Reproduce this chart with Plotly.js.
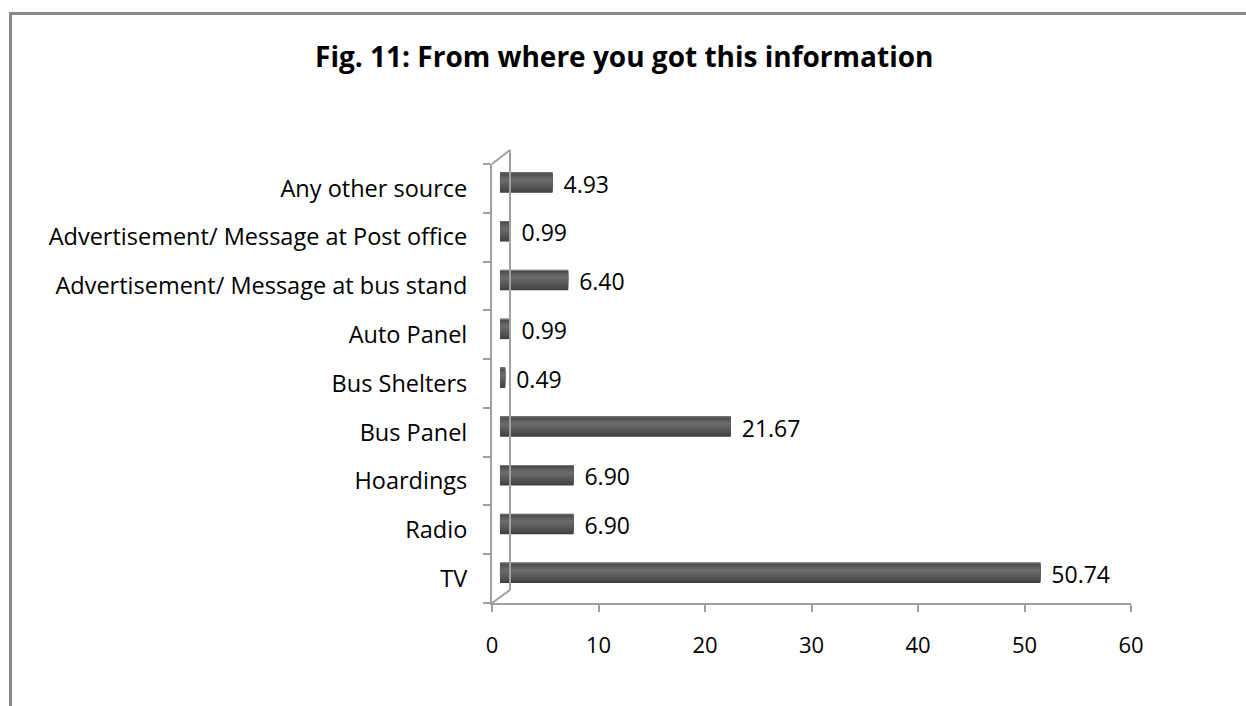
<!DOCTYPE html>
<html>
<head>
<meta charset="utf-8">
<script src="https://cdn.plot.ly/plotly-3.0.1.min.js"></script>
<style>
  html, body { margin: 0; padding: 0; background: #fff; }
  #wrap { position: relative; width: 1246px; height: 706px; overflow: hidden; }
  #chart { width: 1246px; height: 706px; }
  #frame { position: absolute; left: 9px; top: 12px; width: 1400px; height: 900px;
           border-top: 3px solid #878787; border-left: 3px solid #878787; pointer-events: none; box-sizing: border-box; }
</style>
</head>
<body>
<div id="wrap">
  <div id="chart"></div>
  <div id="frame"></div>
</div>
<script>
const titleText = "Fig. 11: From where you got this information";
const categories = [
  "TV",
  "Radio",
  "Hoardings",
  "Bus Panel",
  "Bus Shelters",
  "Auto Panel",
  "Advertisement/ Message at bus stand",
  "Advertisement/ Message at Post office",
  "Any other source"
];
const values = [50.74, 6.90, 6.90, 21.67, 0.49, 0.99, 6.40, 0.99, 4.93];
const xTicks = [0, 10, 20, 30, 40, 50, 60];

const FONT = "'Open Sans', Lato, sans-serif";
const labels = values.map(v => v.toFixed(2));

function layer(width, color, shift) {
  return {
    type: "bar",
    orientation: "h",
    x: values,
    y: categories,
    xaxis: "x2",
    yaxis: "y2",
    width: width,
    offset: -width / 2 + (shift || 0),
    marker: { color: color, line: { width: 0 } },
    hoverinfo: "skip",
    showlegend: false,
    cliponaxis: false
  };
}

// invisible trace so that the front (primary) axes are drawn
const axisTrace = {
  type: "scatter", mode: "markers",
  x: values, y: categories,
  marker: { opacity: 0, size: 1 },
  hoverinfo: "skip", showlegend: false
};

// value labels
const labelTrace = {
  type: "scatter", mode: "markers+text",
  x: values, y: categories,
  xaxis: "x2", yaxis: "y3",
  text: labels,
  textposition: "middle right",
  textfont: { family: FONT, size: 23, color: "#000" },
  marker: { opacity: 0, size: 16 },
  hoverinfo: "skip", showlegend: false, cliponaxis: false
};

const traces = [
  axisTrace,
  layer(0.42, "#3c3c3c", 0),
  layer(0.40, "#444444", 0.005),
  layer(0.36, "#4b4b4b", 0.012),
  layer(0.30, "#525252", 0.02),
  layer(0.23, "#5a5a5a", 0.03),
  layer(0.15, "#626262", 0.04),
  layer(0.07, "#6a6a6a", 0.045),
  layer(0.014, "#8a8a8a", 0.195),
  labelTrace
];

const axisGray = "#a0a0a0";
const layout = {
  width: 1246,
  height: 706,
  paper_bgcolor: "#ffffff",
  plot_bgcolor: "rgba(0,0,0,0)",
  margin: { l: 492, r: 115, t: 164, b: 103, pad: 0 },
  barmode: "overlay",
  showlegend: false,
  font: { family: FONT, color: "#000" },
  title: {
    text: "<b>" + titleText + "</b>",
    font: { family: FONT, size: 28, color: "#000" },
    xref: "container", yref: "container",
    x: 0.501, y: 0.919, xanchor: "center", yanchor: "middle"
  },
  xaxis: {
    range: [0, 60],
    tickvals: xTicks,
    ticktext: xTicks.map(String),
    ticks: "outside", ticklen: 7, tickwidth: 2, tickcolor: axisGray,
    showline: true, linecolor: axisGray, linewidth: 2,
    showgrid: false, zeroline: false,
    tickfont: { family: FONT, size: 22, color: "#000" },
    ticklabelstandoff: 15,
    fixedrange: true
  },
  yaxis: {
    type: "category",
    categoryorder: "array",
    categoryarray: categories,
    range: [-0.5, categories.length - 0.5],
    ticks: "outside", tickson: "boundaries", ticklen: 7, tickwidth: 2, tickcolor: axisGray,
    showline: true, linecolor: axisGray, linewidth: 2,
    showgrid: false, zeroline: false,
    tickfont: { family: FONT, size: 23.5, color: "#000" },
    ticklabelstandoff: 18,
    fixedrange: true
  },
  xaxis2: {
    overlaying: "x", anchor: "y2",
    range: [-0.75, 59.25],
    visible: false, showgrid: false, zeroline: false, fixedrange: true
  },
  yaxis2: {
    overlaying: "y", anchor: "x2",
    type: "category",
    categoryorder: "array",
    categoryarray: categories,
    range: [-0.62, categories.length - 0.62],
    visible: false, showgrid: false, zeroline: false, fixedrange: true
  },
  yaxis3: {
    overlaying: "y", anchor: "x2",
    type: "category",
    categoryorder: "array",
    categoryarray: categories,
    range: [-0.53, categories.length - 0.53],
    visible: false, showgrid: false, zeroline: false, fixedrange: true
  },
  shapes: [
    { type: "line", xref: "x domain", yref: "y domain",
      x0: 18/639, x1: 18/639, y0: 13/439, y1: 453/439,
      line: { color: axisGray, width: 2 } },
    { type: "line", xref: "x domain", yref: "y domain",
      x0: 0, x1: 18/639, y0: 1, y1: 453/439,
      line: { color: axisGray, width: 2 } },
    { type: "line", xref: "x domain", yref: "y domain",
      x0: 0, x1: 18/639, y0: 0, y1: 13/439,
      line: { color: axisGray, width: 2 } }
  ]
};

Plotly.newPlot("chart", traces, layout, { displayModeBar: false, staticPlot: true });
</script>
</body>
</html>
